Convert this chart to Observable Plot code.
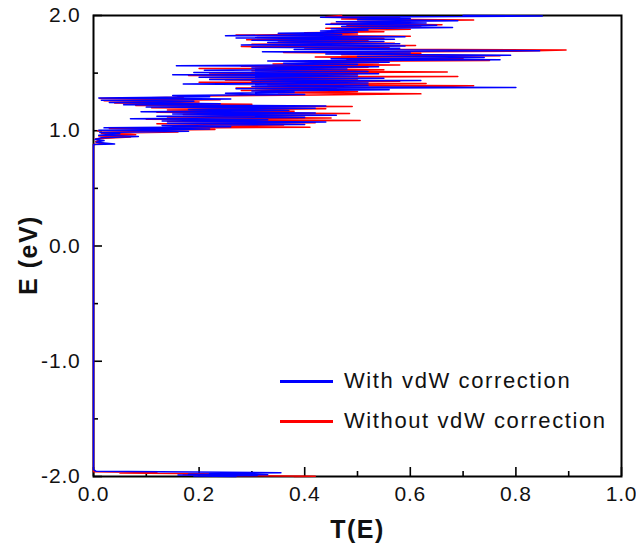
<!DOCTYPE html>
<html><head><meta charset="utf-8">
<script src="https://cdn.jsdelivr.net/npm/d3@7"></script>
<script src="https://cdn.jsdelivr.net/npm/@observablehq/plot@0.6"></script>
<style>
body{margin:0;background:#fff;font-family:"Liberation Sans",Arial,sans-serif}
#wrap{position:relative;width:636px;height:551px}
.leg{position:absolute;left:280px;font-size:22px;letter-spacing:1.6px;line-height:24px;height:24px;display:flex;align-items:center;color:#111;white-space:nowrap}
.leg .sw{display:inline-block;width:53px;height:3px;margin-right:11px}
</style></head><body><div id="wrap"></div>
<script>
// Series: With vdW correction (blue)
const blueE = [-2.000,-1.996,-1.992,-1.988,-1.984,-1.980,-1.976,-1.972,-1.968,-1.955,-1.940,
 0.880,0.885,0.900,0.915,0.925,0.940,0.950,0.960,0.975,0.985,0.995,1.005,1.015,1.025,1.035,1.045,1.055,1.065,1.075,1.085,1.095,
 1.105,1.115,1.125,1.135,1.145,1.155,1.165,1.175,1.185,1.195,1.205,1.215,1.225,1.235,1.245,1.255,1.265,1.275,1.285,1.295,
 1.305,1.315,1.325,1.335,1.345,1.355,1.365,1.375,1.385,1.395,1.405,1.415,1.425,1.435,1.445,1.455,1.465,1.475,1.485,1.495,
 1.505,1.515,1.525,1.535,1.545,1.555,1.565,1.575,1.585,1.595,1.605,1.615,1.625,1.635,1.645,1.655,1.665,1.675,1.685,1.695,
 1.705,1.715,1.725,1.735,1.745,1.755,1.765,1.775,1.785,1.795,1.805,1.815,1.825,1.835,1.845,1.855,1.865,1.875,1.885,1.895,
 1.905,1.915,1.925,1.935,1.945,1.955,1.965,1.975,1.985,1.995,2.000];
const blueT = [0.27,0.19,0.31,0.16,0.33,0.18,0.30,0.22,0.355,0.005,0.0,
 0.0,0.04,0.005,0.02,0.003,0.015,0.085,0.01,0.05,0.012,0.18,0.01,0.22,0.02,0.26,0.13,0.40,0.14,0.44,0.13,0.33,
 0.07,0.40,0.12,0.46,0.15,0.42,0.09,0.37,0.18,0.42,0.10,0.44,0.057,0.24,0.03,0.19,0.015,0.26,0.01,0.22,
 0.15,0.40,0.25,0.38,0.30,0.56,0.27,0.80,0.30,0.52,0.17,0.52,0.30,0.62,0.22,0.55,0.20,0.50,0.15,0.54,
 0.19,0.52,0.21,0.48,0.30,0.54,0.157,0.50,0.36,0.56,0.33,0.77,0.45,0.74,0.50,0.79,0.44,0.60,0.32,0.845,
 0.38,0.58,0.30,0.59,0.28,0.58,0.33,0.55,0.30,0.57,0.27,0.59,0.25,0.47,0.35,0.50,0.43,0.52,0.45,0.68,
 0.47,0.65,0.44,0.63,0.46,0.69,0.50,0.60,0.43,0.85,0.70];
// Series: Without vdW correction (red)
const redE = [-2.000,-1.997,-1.993,-1.988,-1.984,-1.980,-1.975,-1.970,-1.965,-1.958,-1.940,
 0.880,0.890,0.905,0.918,0.930,0.945,0.955,0.965,0.978,0.990,1.000,1.010,1.020,1.030,1.040,1.050,1.060,1.070,1.080,1.090,
 1.100,1.110,1.120,1.130,1.140,1.150,1.160,1.170,1.180,1.190,1.200,1.210,1.220,1.230,1.240,1.250,1.260,1.270,1.280,1.290,
 1.300,1.310,1.320,1.330,1.340,1.350,1.360,1.370,1.380,1.390,1.400,1.410,1.420,1.430,1.440,1.450,1.460,1.470,1.480,1.490,
 1.500,1.510,1.520,1.530,1.540,1.550,1.560,1.570,1.580,1.590,1.600,1.610,1.620,1.630,1.640,1.650,1.660,1.670,1.680,1.690,
 1.700,1.710,1.720,1.730,1.740,1.750,1.760,1.770,1.780,1.790,1.800,1.810,1.820,1.830,1.840,1.850,1.860,1.870,1.880,1.890,
 1.900,1.910,1.920,1.930,1.940,1.950,1.960,1.970,1.980,1.990,2.000];
const redT = [0.38,0.42,0.24,0.30,0.17,0.29,0.16,0.05,0.12,0.0,0.0,
 0.0,0.02,0.004,0.012,0.004,0.07,0.01,0.08,0.015,0.16,0.008,0.23,0.03,0.41,0.15,0.36,0.12,0.42,0.14,0.505,
 0.10,0.45,0.14,0.40,0.17,0.485,0.12,0.38,0.14,0.44,0.11,0.49,0.08,0.30,0.04,0.20,0.02,0.24,0.012,0.17,
 0.16,0.42,0.62,0.35,0.50,0.28,0.46,0.27,0.62,0.72,0.33,0.63,0.20,0.58,0.25,0.50,0.22,0.69,0.18,0.50,
 0.22,0.67,0.30,0.55,0.20,0.52,0.28,0.58,0.34,0.54,0.40,0.75,0.48,0.70,0.42,0.77,0.47,0.62,0.36,0.80,
 0.895,0.40,0.56,0.28,0.61,0.30,0.57,0.35,0.52,0.29,0.55,0.31,0.60,0.27,0.50,0.40,0.55,0.46,0.60,0.44,
 0.62,0.48,0.66,0.45,0.60,0.50,0.72,0.47,0.58,0.44,0.47];
const seriesNames = ["With vdW correction","Without vdW correction"];
const seriesColors = ["#0000ff","#ff0000"];
const xMajor = [0.0,0.2,0.4,0.6,0.8,1.0];
const xMinor = [0.1,0.3,0.5,0.7,0.9];
const yMajor = [-2.0,-1.0,0.0,1.0,2.0];
const yMinor = [-1.5,-0.5,0.5,1.5];
const xTitle = "T(E)", yTitle = "E (eV)";

const blue = blueE.map((e,i)=>({E:e,T:blueT[i]}));
const red = redE.map((e,i)=>({E:e,T:redT[i]}));

const W=636,H=551,mL=93,mR=15,mT=15,mB=75;
const pW=W-mL-mR, pH=H-mT-mB;
const fmt = d => d.toFixed(1);
const chart = Plot.plot({
  width:W,height:H,marginLeft:mL,marginRight:mR,marginTop:mT,marginBottom:mB,
  x:{domain:[0,1]}, y:{domain:[-2,2]},
  style:{fontFamily:"'Liberation Sans', Arial, sans-serif",background:"white",color:"#111"},
  marks:[
    Plot.tickX(xMajor,{x:d=>d,insetTop:pH-9,stroke:"black",strokeWidth:1.6}),
    Plot.tickX(xMinor,{x:d=>d,insetTop:pH-5,stroke:"black",strokeWidth:1.6}),
    Plot.tickY(yMajor,{y:d=>d,insetRight:pW-9,stroke:"black",strokeWidth:1.6}),
    Plot.tickY(yMinor,{y:d=>d,insetRight:pW-5,stroke:"black",strokeWidth:1.6}),
    Plot.frame({stroke:"black",strokeWidth:2}),
    Plot.line(red,{x:"T",y:"E",stroke:seriesColors[1],strokeWidth:1.5}),
    Plot.line(blue,{x:"T",y:"E",stroke:seriesColors[0],strokeWidth:1.5}),
    Plot.axisX(xMajor,{tickSize:0,tickPadding:10,tickFormat:fmt,fontSize:21,label:null}),
    Plot.axisY(yMajor,{tickSize:0,tickPadding:13,tickFormat:fmt,fontSize:21,label:null}),
    Plot.text([xTitle],{frameAnchor:"bottom",dy:61,fontSize:25,fontWeight:"bold"}),
    Plot.text([yTitle],{frameAnchor:"left",textAnchor:"middle",dx:-65,dy:9,rotate:-90,fontSize:25,fontWeight:"bold"})
  ]
});
chart.querySelectorAll("g[aria-label='x-axis tick label'] text, g[aria-label='y-axis tick label'] text").forEach(t=>t.setAttribute("letter-spacing","0.8"));
chart.querySelectorAll("g[aria-label='text'] text").forEach(t=>t.setAttribute("letter-spacing","1.5"));
const wrap = document.getElementById("wrap");
wrap.appendChild(chart);
const legTops=[369,409];
seriesNames.forEach((n,i)=>{
  const d=document.createElement("div");
  d.className="leg"; d.style.top=legTops[i]+"px";
  d.innerHTML=`<span class="sw" style="background:${seriesColors[i]}"></span>${n}`;
  wrap.appendChild(d);
});
</script></body></html>
